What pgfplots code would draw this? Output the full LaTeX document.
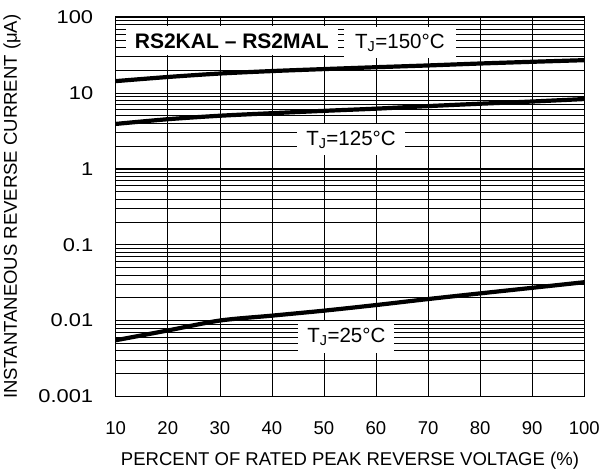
\documentclass[border=0pt]{standalone}
\usepackage{fontspec}
\setmainfont{Liberation Sans}
\usepackage{pgfplots}
\pgfplotsset{compat=1.18}

\begin{document}
\begin{tikzpicture}
\begin{axis}[
    scale only axis,
    width=468pt, height=379pt,
    ymode=log,
    xmin=10, xmax=100,
    ymin=0.001, ymax=100,
    xtick={10,20,...,100},
    ytick={0.001,0.01,0.1,1,10,100},
    yticklabels={0.001,0.01,0.1,1,10,100},
    grid=both,
    major grid style={black, line width=0.6pt},
    minor grid style={black, line width=0.5pt},
    axis line style={black, line width=1.2pt},
    major tick length=0pt, minor tick length=0pt,
    tick style={draw=none},
    /pgf/number format/assume math mode=true,
    font=\fontsize{18.5}{22}\selectfont,
    yticklabel style={anchor=east, xshift=-19pt, font=\fontsize{18.5}{22}\selectfont\addfontfeatures{FakeStretch=1.18}},
    xticklabel style={yshift=-22pt},
    xlabel={PERCENT OF RATED PEAK REVERSE VOLTAGE (\%)},
    ylabel={INSTANTANEOUS REVERSE CURRENT (μA)},
    xlabel style={font=\fontsize{18.5}{22}\selectfont, yshift=-10pt},
    ylabel style={font=\fontsize{18.5}{22}\selectfont, yshift=11pt},
    clip=true,
]
% T_J = 150 C
\addplot[black, line width=4.2pt, smooth] coordinates {
    (10,14.3) (20,16.2) (30,18.0) (40,19.4) (50,20.6) (60,21.8) (70,23.0) (80,24.4) (90,25.7) (100,27.0)
};
% T_J = 125 C
\addplot[black, line width=4.2pt, smooth] coordinates {
    (10,3.9) (20,4.5) (30,5.0) (40,5.4) (50,5.8) (60,6.2) (70,6.7) (80,7.2) (90,7.7) (100,8.3)
};
% T_J = 25 C
\addplot[black, line width=4.2pt, smooth] coordinates {
    (10,0.0055) (20,0.0074) (30,0.0100) (40,0.0116) (50,0.0135) (60,0.0160) (70,0.0192) (80,0.0228) (90,0.027) (100,0.032)
};
\node[fill=white, anchor=base, inner xsep=9pt, inner ysep=7pt, font=\fontsize{21}{25}\selectfont\bfseries] at (axis cs:32.3,39) {RS2KAL – RS2MAL};
\node[fill=white, anchor=base, inner xsep=11pt, inner ysep=7pt, font=\fontsize{20.5}{24}\selectfont] at (axis cs:64.6,39) {T\textsubscript{J}=150\textdegree C};
\node[fill=white, anchor=base, inner xsep=9pt, inner ysep=7pt, font=\fontsize{20.5}{24}\selectfont] at (axis cs:55.2,2.05) {T\textsubscript{J}=125\textdegree C};
\node[fill=white, anchor=base, inner xsep=9pt, inner ysep=7pt, font=\fontsize{20.5}{24}\selectfont] at (axis cs:54.3,0.00515) {T\textsubscript{J}=25\textdegree C};
\end{axis}
\path ([yshift=17pt]current axis.north);
\end{tikzpicture}
\end{document}
